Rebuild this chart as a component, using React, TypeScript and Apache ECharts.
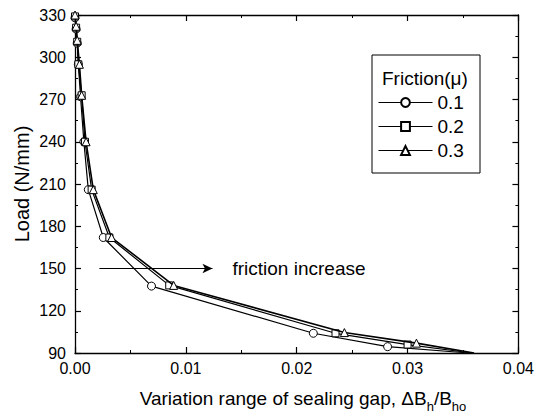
import React, { useEffect, useRef } from "react";
import * as echarts from "echarts";

const FONT = "'Liberation Sans', Arial, Helvetica, sans-serif";

const seriesNames = ["0.1", "0.2", "0.3"];
const symbols = ["circle", "rect", "triangle"];

const gap01 = [0.0, 0.0001, 0.0002, 0.0003, 0.0005, 0.0008, 0.0012, 0.00255, 0.0069, 0.0215, 0.0282, 0.0355];
const load01 = [328, 320, 310, 295, 272, 240, 206, 172, 137.5, 104, 94.5, 90];

const gap02 = [0.0, 0.0001, 0.0002, 0.0003, 0.0006, 0.0009, 0.0015, 0.0031, 0.0085, 0.0235, 0.03, 0.0358];
const load02 = [329, 321, 311, 295, 273, 240, 206, 172, 138, 104, 96, 90];

const gap03 = [0.0, 0.0001, 0.0002, 0.0004, 0.0006, 0.001, 0.00165, 0.0033, 0.0089, 0.0243, 0.0308, 0.036];
const load03 = [330, 322, 312, 295, 273, 240, 206, 172, 138, 104.5, 97, 90];

const xTicks = { min: 0, max: 0.04, interval: 0.01 };
const yTicks = { min: 90, max: 330, interval: 30 };

const arrowStart = [0.0022, 150];
const arrowEnd = [0.0124, 150];

const allGaps = [gap01, gap02, gap03];
const allLoads = [load01, load02, load03];

export default function App() {
  const ref = useRef<HTMLDivElement>(null);
  useEffect(() => {
    if (!ref.current) return;
    const chart = echarts.init(ref.current, null, { renderer: "svg" });
    const axisCommon = {
      type: "value" as const,
      axisLine: { show: true, onZero: false, lineStyle: { color: "#000", width: 1.3 } },
      axisTick: { show: true, inside: true, length: 6, lineStyle: { color: "#000", width: 1.2 } },
      minorTick: { show: true, splitNumber: 2, length: 3, lineStyle: { color: "#000", width: 1 } },
      splitLine: { show: false },
    };
    const series: any[] = allGaps.map((g, i) => ({
      name: seriesNames[i],
      type: "line",
      data: g.map((x, j) =>
        j === g.length - 1
          ? { value: [x, allLoads[i][j]], symbol: "none" }
          : [x, allLoads[i][j]]
      ),
      symbol: symbols[i],
      symbolSize: i === 1 ? 7 : 8,
      showAllSymbol: true,
      lineStyle: { color: "#000", width: i === 2 ? 1.6 : 1.2 },
      itemStyle: { color: "#fff", borderColor: "#000", borderWidth: 1 },
      z: 3 + i,
    }));
    series[0].markLine = {
      silent: true,
      symbol: ["none", "arrow"],
      symbolSize: [7, 10],
      lineStyle: { color: "#000", width: 1, type: "solid" },
      label: {
        show: true,
        position: "end",
        distance: 20,
        formatter: "friction increase",
        color: "#000",
        fontSize: 19,
        fontFamily: FONT,
      },
      data: [[{ coord: arrowStart }, { coord: arrowEnd }]],
    };
    chart.setOption({
      animation: false,
      backgroundColor: "#fff",
      grid: { left: 75, top: 15, width: 444, height: 338 },
      xAxis: [
        {
          ...axisCommon,
          position: "bottom",
          ...xTicks,
          axisLabel: {
            color: "#000",
            fontSize: 16,
            fontFamily: FONT,
            margin: 7,
            formatter: (v: number) => v.toFixed(2),
          },
        },
        {
          ...axisCommon,
          position: "top",
          ...xTicks,
          axisLabel: { show: false },
        },
      ],
      yAxis: [
        {
          ...axisCommon,
          position: "left",
          ...yTicks,
          axisLabel: { color: "#000", fontSize: 16, fontFamily: FONT, margin: 9 },
        },
        {
          ...axisCommon,
          position: "right",
          ...yTicks,
          axisLabel: { show: false },
        },
      ],
      legend: {
        orient: "vertical",
        left: 378,
        top: 93,
        padding: 0,
        itemGap: 5,
        itemWidth: 54,
        itemHeight: 11,
        data: seriesNames,
        lineStyle: { width: 1 },
        textStyle: { color: "#000", fontSize: 19, fontFamily: FONT },
      },
      graphic: [
        {
          type: "rect",
          shape: { x: 372, y: 55, width: 108, height: 118 },
          style: { fill: "none", stroke: "#000", lineWidth: 1 },
          z: 10,
        },
        {
          type: "text",
          x: 382,
          y: 78,
          style: {
            text: "Friction(μ)",
            fontSize: 19,
            fontFamily: FONT,
            fill: "#000",
            verticalAlign: "middle",
          },
          z: 10,
        },
        {
          type: "text",
          x: 22,
          y: 184,
          rotation: Math.PI / 2,
          style: {
            text: "Load (N/mm)",
            fontSize: 20,
            fontFamily: FONT,
            fill: "#000",
            align: "center",
            verticalAlign: "middle",
          },
        },
        {
          type: "text",
          x: 303,
          y: 398,
          style: {
            text: "Variation range of sealing gap, ΔB{s|h}/B{s|ho}",
            fontSize: 19,
            fontFamily: FONT,
            fill: "#000",
            align: "center",
            verticalAlign: "middle",
            rich: {
              s: { fontSize: 13, fontFamily: FONT, fill: "#000", verticalAlign: "bottom", lineHeight: 12 },
            },
            lineHeight: 30,
          },
        },
      ],
      series,
    });
    return () => chart.dispose();
  }, []);
  return (
    <div
      ref={ref}
      style={{ position: "fixed", left: 0, top: 0, width: 537, height: 419, background: "#fff" }}
    />
  );
}
